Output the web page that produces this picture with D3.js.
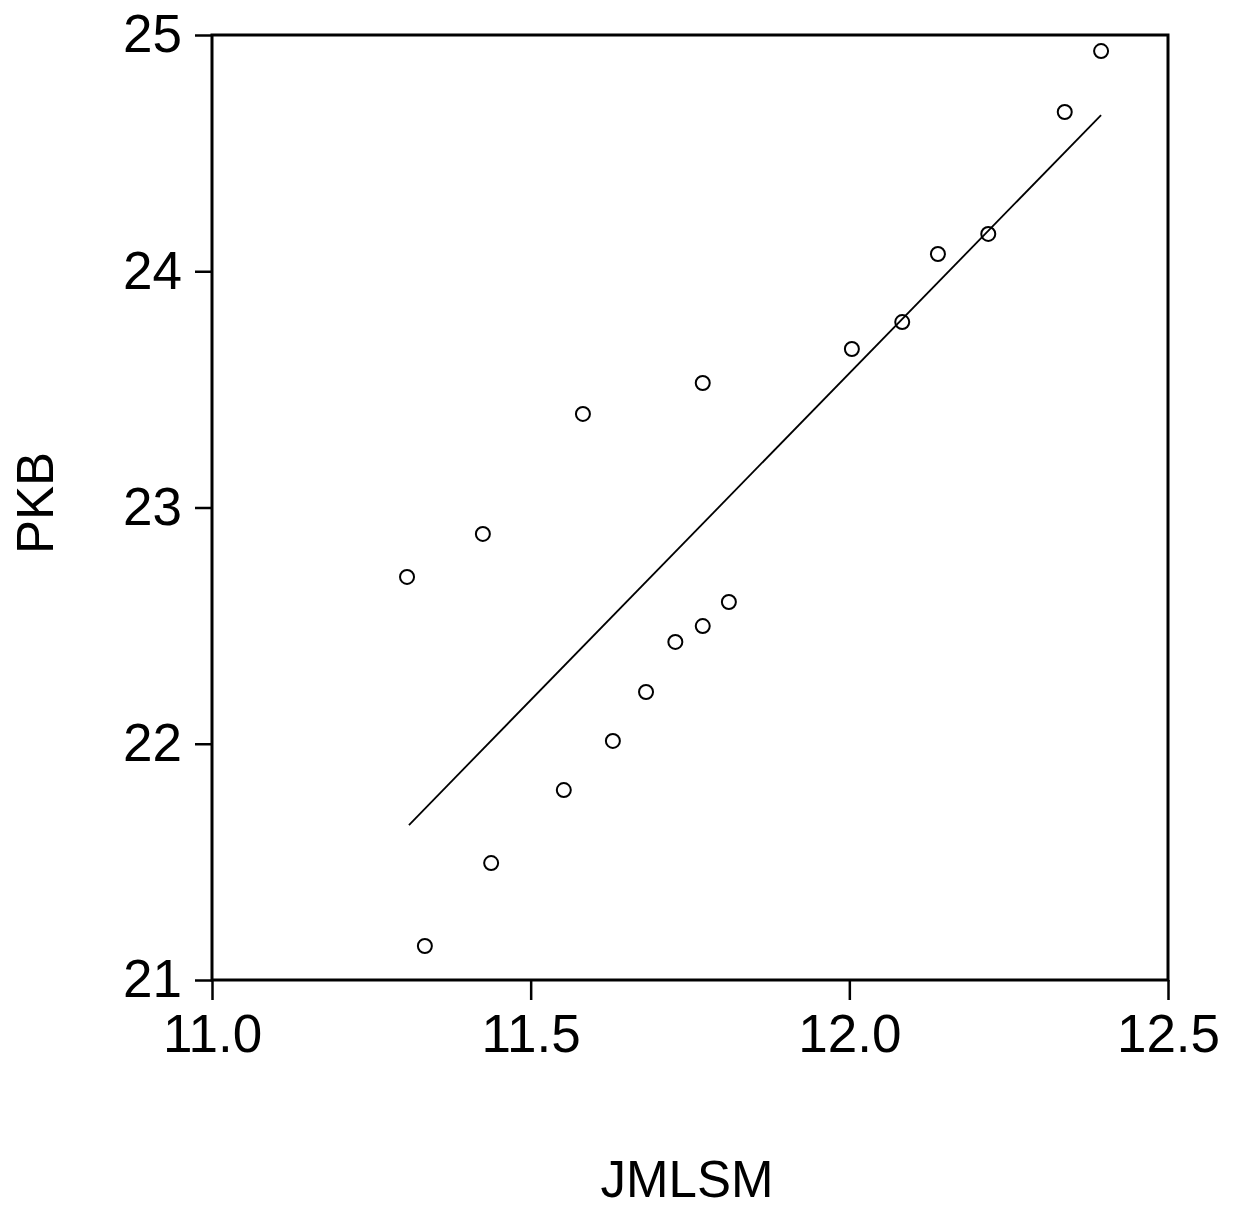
<!DOCTYPE html>
<html>
<head>
<meta charset="utf-8">
<script src="https://cdn.jsdelivr.net/npm/d3@7"></script>
<style>
  body { margin: 0; background: #fff; }
  text { font-family: "Liberation Sans", Arial, sans-serif; fill: #000; }
</style>
</head>
<body>
<div id="chart"></div>
<script>
// scatter values
var jmlsm = [11.306, 11.334, 11.425, 11.438, 11.552, 11.582, 11.629, 11.681, 11.727,
             11.770, 11.770, 11.811, 12.004, 12.083, 12.139, 12.218, 12.338, 12.395]
var pkb   = [22.706, 21.144, 22.888, 21.495, 21.804, 23.396, 22.012, 22.219, 22.431,
             22.498, 23.527, 22.600, 23.671, 23.785, 24.073, 24.158, 24.674, 24.932]

// fitted line end points
var fitX = [11.309, 12.395]
var fitY = [21.656, 24.661]

var xTicks = [11.0, 11.5, 12.0, 12.5]
var yTicks = [21, 22, 23, 24, 25]

var W = 1239, H = 1211
var margin = {top: 35, right: 71, bottom: 231, left: 212},
    width = W - margin.left - margin.right,
    height = H - margin.top - margin.bottom

var svg = d3.select("#chart").append("svg")
    .attr("width", W)
    .attr("height", H)

var g = svg.append("g").attr("transform", "translate(" + margin.left + "," + margin.top + ")")

var x = d3.scaleLinear().domain([11.0, 12.5]).range([0, width])
var y = d3.scaleLinear().domain([21, 25]).range([height, 0])

// frame
g.append("rect")
  .attr("x", 0).attr("y", 0)
  .attr("width", width).attr("height", height)
  .attr("fill", "none")
  .attr("stroke", "#000")
  .attr("stroke-width", 3)

var xAxis = g.append("g")
  .attr("transform", "translate(0," + height + ")")
  .call(d3.axisBottom(x).tickValues(xTicks).tickFormat(d3.format(".1f")).tickSize(20).tickSizeOuter(0).tickPadding(14))
xAxis.select(".domain").remove()
xAxis.selectAll("line").attr("stroke-width", 2.5)
xAxis.selectAll("text").attr("font-size", "53px").attr("font-family", "Liberation Sans, Arial, sans-serif")

var yAxis = g.append("g")
  .call(d3.axisLeft(y).tickValues(yTicks).tickFormat(d3.format("d")).tickSize(17).tickSizeOuter(0).tickPadding(13))
yAxis.select(".domain").remove()
yAxis.selectAll("line").attr("stroke-width", 2.5)
yAxis.selectAll("text").attr("font-size", "53px").attr("font-family", "Liberation Sans, Arial, sans-serif")

// regression line
var line = d3.line().x(d => x(d[0])).y(d => y(d[1]))
g.append("path")
  .attr("d", line(d3.zip(fitX, fitY)))
  .attr("fill", "none")
  .attr("stroke", "#000")
  .attr("stroke-width", 1.8)

// points
g.selectAll("circle.pt")
  .data(d3.zip(jmlsm, pkb))
  .enter().append("circle")
  .attr("class", "pt")
  .attr("cx", d => x(d[0]))
  .attr("cy", d => y(d[1]))
  .attr("r", 7)
  .attr("fill", "none")
  .attr("stroke", "#000")
  .attr("stroke-width", 2)

// axis titles
svg.append("text")
  .attr("x", 687).attr("y", 1197)
  .attr("text-anchor", "middle")
  .attr("font-size", "51px")
  .text("JMLSM")

svg.append("text")
  .attr("transform", "translate(53,503) rotate(-90)")
  .attr("text-anchor", "middle")
  .attr("font-size", "51px")
  .text("PKB")
</script>
</body>
</html>
